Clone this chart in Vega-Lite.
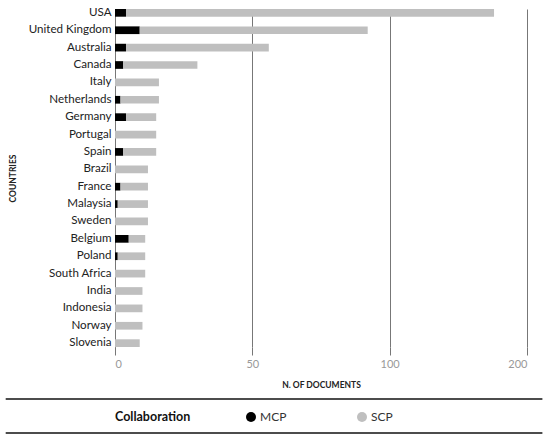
{
  "$schema": "https://vega.github.io/schema/vega-lite/v6.json",
  "padding": {"left": 4, "top": 6, "right": 5, "bottom": 5},
  "columns": 1,
  "spacing": 9,
  "config": {"view": {"stroke": null}, "font": "Lato"},
  "concat": [
    {
      "width": 412,
      "height": 338,
      "data": {
        "values": [
          {"country": "USA", "type": "MCP", "n": 4},
          {"country": "USA", "type": "SCP", "n": 172},
          {"country": "United Kingdom", "type": "MCP", "n": 9},
          {"country": "United Kingdom", "type": "SCP", "n": 83},
          {"country": "Australia", "type": "MCP", "n": 4},
          {"country": "Australia", "type": "SCP", "n": 52},
          {"country": "Canada", "type": "MCP", "n": 3},
          {"country": "Canada", "type": "SCP", "n": 27},
          {"country": "Italy", "type": "SCP", "n": 16},
          {"country": "Netherlands", "type": "MCP", "n": 2},
          {"country": "Netherlands", "type": "SCP", "n": 14},
          {"country": "Germany", "type": "MCP", "n": 4},
          {"country": "Germany", "type": "SCP", "n": 11},
          {"country": "Portugal", "type": "SCP", "n": 15},
          {"country": "Spain", "type": "MCP", "n": 3},
          {"country": "Spain", "type": "SCP", "n": 12},
          {"country": "Brazil", "type": "SCP", "n": 12},
          {"country": "France", "type": "MCP", "n": 2},
          {"country": "France", "type": "SCP", "n": 10},
          {"country": "Malaysia", "type": "MCP", "n": 1},
          {"country": "Malaysia", "type": "SCP", "n": 11},
          {"country": "Sweden", "type": "SCP", "n": 12},
          {"country": "Belgium", "type": "MCP", "n": 5},
          {"country": "Belgium", "type": "SCP", "n": 6},
          {"country": "Poland", "type": "MCP", "n": 1},
          {"country": "Poland", "type": "SCP", "n": 10},
          {"country": "South Africa", "type": "SCP", "n": 11},
          {"country": "India", "type": "SCP", "n": 10},
          {"country": "Indonesia", "type": "SCP", "n": 10},
          {"country": "Norway", "type": "SCP", "n": 10},
          {"country": "Slovenia", "type": "SCP", "n": 9}
        ]
      },
      "mark": {"type": "bar"},
      "encoding": {
        "y": {
          "field": "country",
          "type": "nominal",
          "sort": ["USA", "United Kingdom", "Australia", "Canada", "Italy", "Netherlands", "Germany", "Portugal", "Spain", "Brazil", "France", "Malaysia", "Sweden", "Belgium", "Poland", "South Africa", "India", "Indonesia", "Norway", "Slovenia"],
          "scale": {"paddingInner": 0.557, "paddingOuter": 0},
          "axis": {
            "title": "COUNTRIES",
            "titleFontSize": 8.5,
            "titleFontWeight": "bold",
            "titleColor": "#222",
            "titlePadding": 11,
            "labelFontSize": 11.6,
            "labelColor": "#222",
            "labelPadding": 4,
            "ticks": false,
            "domainColor": "#777",
            "domainWidth": 1,
            "grid": false
          }
        },
        "x": {
          "field": "n",
          "type": "quantitative",
          "stack": "zero",
          "scale": {"type": "linear", "domain": [0, 50, 100, 200], "range": [0, 137.33, 274.67, 412], "nice": false, "zero": false},
          "axis": {
            "values": [0, 50, 100, 200],
            "title": "N. OF DOCUMENTS",
            "titleFontSize": 8.5,
            "titleFontWeight": "bold",
            "titleColor": "#222",
            "titlePadding": 11,
            "grid": true,
            "gridColor": "#777",
            "gridWidth": 1,
            "domain": false,
            "tickColor": "#777",
            "tickSize": 8,
            "labelColor": "#999",
            "labelFontSize": 11,
            "labelPadding": 3
          }
        },
        "color": {
          "field": "type",
          "type": "nominal",
          "scale": {"domain": ["MCP", "SCP"], "range": ["#000000", "#bfbfbf"]},
          "legend": {
            "title": "Collaboration",
            "orient": "none",
            "legendX": 0,
            "legendY": 402,
            "direction": "horizontal",
            "titleOrient": "left",
            "titleFontSize": 12.5,
            "titleFontWeight": "bold",
            "titleColor": "#111",
            "titlePadding": 54,
            "labelFontSize": 12,
            "labelColor": "#333",
            "symbolType": "circle",
            "symbolSize": 100,
            "symbolStrokeWidth": 0,
            "columnPadding": 69,
            "labelOffset": 3,
            "padding": 0
          }
        },
        "order": {"field": "type", "sort": "ascending"}
      }
    },
    {
      "width": 412,
      "height": 34,
      "data": {"values": [{"edge": 0, "start": 0, "end": 1}, {"edge": 1, "start": 0, "end": 1}]},
      "mark": {"type": "rule", "color": "#111", "strokeWidth": 1.5},
      "encoding": {
        "y": {"field": "edge", "type": "quantitative", "scale": {"domain": [0, 1]}, "axis": null},
        "x": {"field": "start", "type": "quantitative", "scale": {"domain": [0, 1], "range": [-109.3, 427.4]}, "axis": null},
        "x2": {"field": "end"}
      }
    }
  ]
}
